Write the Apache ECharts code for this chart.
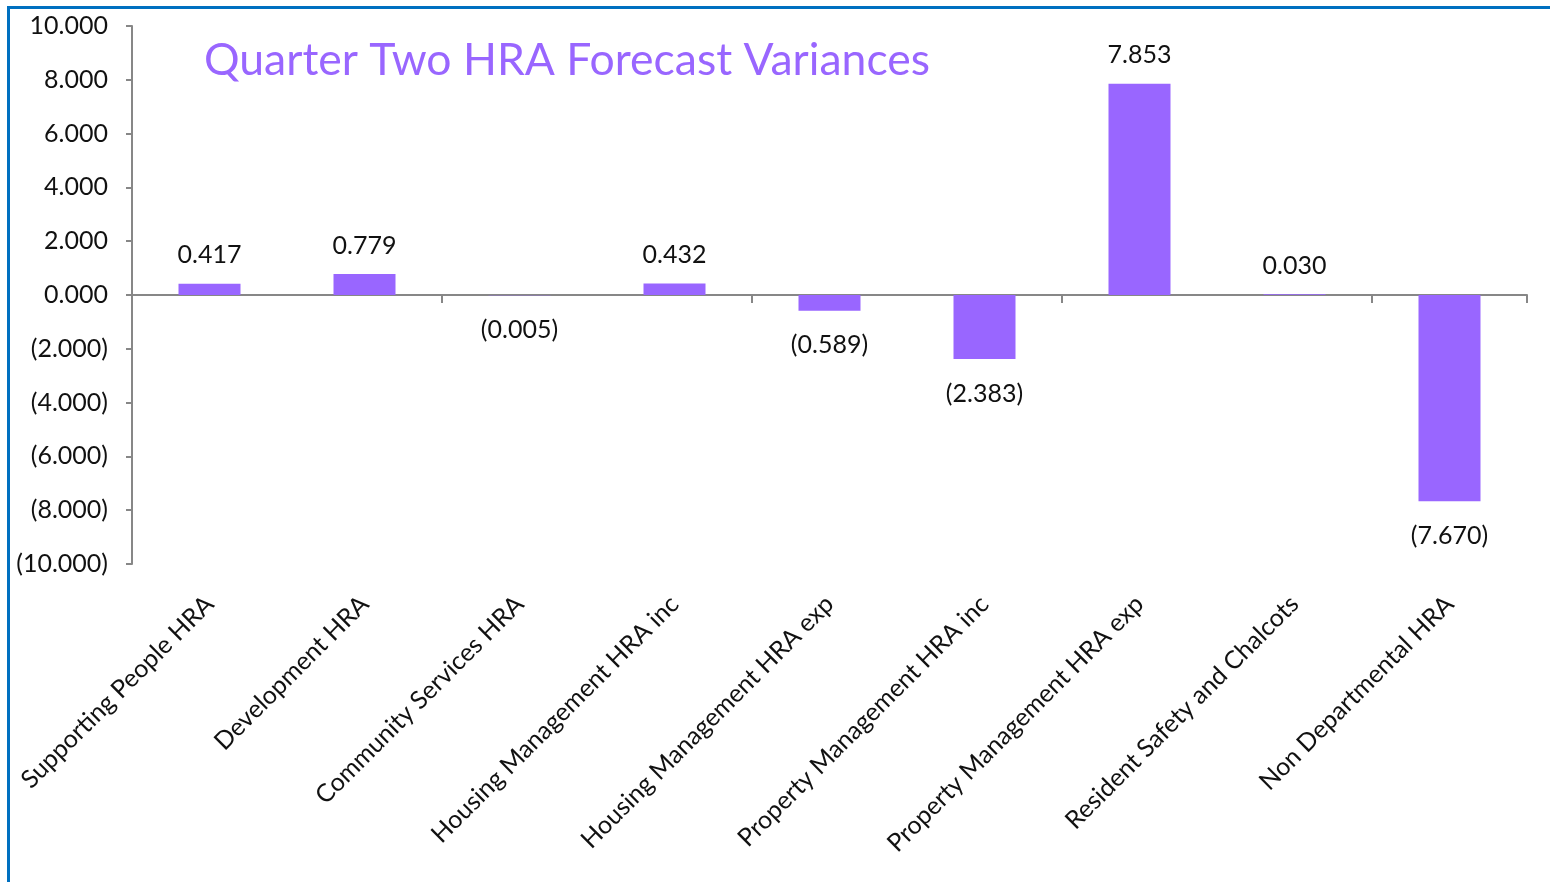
<!DOCTYPE html>
<html>
<head>
<meta charset="utf-8">
<script src="https://cdn.jsdelivr.net/npm/echarts@6/dist/echarts.min.js"></script>
<style>
  html, body { margin: 0; padding: 0; background: #fff; }
  #frame {
    position: absolute; left: 7px; top: 6px; width: 1560px; height: 900px;
    border-left: 3px solid #0070C0; border-top: 3px solid #0070C0;
  }
  #chart { position: absolute; left: 0; top: 0; width: 1550px; height: 882px; }
</style>
</head>
<body>
<div id="frame"></div>
<div id="chart"></div>
<script>
// 各部门预测差异（百万）
const categories = [
  'Supporting People HRA',
  'Development HRA',
  'Community Services HRA',
  'Housing Management HRA inc',
  'Housing Management HRA exp',
  'Property Management HRA inc',
  'Property Management HRA exp',
  'Resident Safety and Chalcots',
  'Non Departmental HRA'
]
const variances = [0.417, 0.779, -0.005, 0.432, -0.589, -2.383, 7.853, 0.030, -7.670]
const yTicks = { min: -10, max: 10, interval: 2 }

const fmt = (v) => (v < 0 ? `(${Math.abs(v).toFixed(3)})` : v.toFixed(3))

const purple = '#9966FF'
const axisGrey = '#878787'
const font = 'Lato, "Open Sans", sans-serif'

const chart = echarts.init(document.getElementById('chart'))

chart.setOption({
  animation: false,
  title: {
    text: 'Quarter Two HRA Forecast Variances',
    left: 199, top: 33,
    textStyle: { color: purple, fontFamily: font, fontSize: 44.5, fontWeight: 'normal' }
  },
  grid: { left: 132, right: 23, top: 26, bottom: 318 },
  xAxis: [
    {
      // 零线上的轴（线和刻度）
      type: 'category',
      data: categories,
      axisLine: { onZero: true, lineStyle: { color: axisGrey, width: 2 } },
      axisTick: { show: true, length: 8, lineStyle: { color: axisGrey, width: 2 } },
      axisLabel: { show: false }
    },
    {
      // 底部标签
      type: 'category',
      position: 'bottom',
      data: categories,
      axisLine: { show: false },
      axisTick: { show: false },
      axisLabel: {
        rotate: 45, margin: 36, interval: 0,
        color: '#111', fontFamily: font, fontSize: 25
      }
    }
  ],
  yAxis: {
    type: 'value',
    min: yTicks.min, max: yTicks.max, interval: yTicks.interval,
    axisLine: { show: true, lineStyle: { color: axisGrey, width: 2 } },
    axisTick: { show: true, length: 6, lineStyle: { color: axisGrey, width: 2 } },
    splitLine: { show: false },
    axisLabel: {
      formatter: fmt, margin: 24,
      color: '#111', fontFamily: font, fontSize: 25
    }
  },
  series: [{
    type: 'bar',
    xAxisIndex: 0,
    barWidth: '40%',
    itemStyle: { color: purple },
    label: {
      show: true,
      formatter: (p) => fmt(p.value),
      color: '#111', fontFamily: font, fontSize: 25
    },
    data: variances.map((v) => ({
      value: v,
      label: v < 0 ? { position: 'bottom', distance: 22 } : { position: 'top', distance: 16 }
    }))
  }]
})
</script>
</body>
</html>
